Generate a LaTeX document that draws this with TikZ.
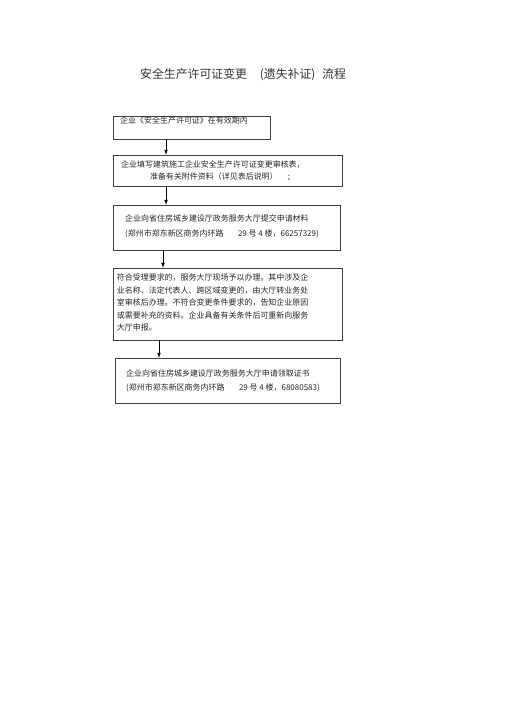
\documentclass[tikz,border=0pt]{standalone}
\usepackage{fontspec}
\newfontfamily\cjk{Noto Sans CJK SC}
\tikzstyle{flowbox} = [draw=black!75, line width=0.5pt, rectangle, inner sep=0pt]
\tikzstyle{flowtext} = [inner sep=0pt, anchor=north west, align=left, text=black!85, font={\cjk\fontsize{9.4}{14.7}\selectfont}]
\tikzstyle{flowarrow} = [-latex, line width=1pt, black]

\begin{document}
\begin{tikzpicture}[x=1.178pt,y=-1.178pt]
    \useasboundingbox (0,0) rectangle (505,714);
    \node[font={\cjk\fontsize{14}{16}\selectfont}, text=black!80, anchor=west, inner sep=0pt](title) at (140,75){安全生产许可证变更\hspace{15pt}(遗失补证)\hspace{8pt}流程};
    \node[flowbox, minimum width=184.9pt, minimum height=27.1pt](box1) at (191.5,127.5){};
    \node[flowbox, minimum width=269.8pt, minimum height=36.5pt](box2) at (227.5,170.5){};
    \node[flowbox, minimum width=267.4pt, minimum height=53pt](box3) at (226.5,227.5){};
    \node[flowbox, minimum width=269.8pt, minimum height=84.8pt](box4) at (227.5,304){};
    \node[flowbox, minimum width=265pt, minimum height=53pt](box5) at (227.5,380.5){};
    \node[flowtext](text1) at (120,117){企业《安全生产许可证》在有效期内};
    \node[flowtext](text2) at (121,160.5){企业填写建筑施工企业安全生产许可证变更审核表，\\
        \hspace*{34pt}准备有关附件资料（详见表后说明）\hspace{12pt};};
    \node[flowtext](text3) at (125,215){企业向省住房城乡建设厅政务服务大厅提交申请材料\\[2pt]
        (郑州市郑东新区商务内环路\hspace{17pt}29 号 4 楼，66257329)};
    \node[flowtext](text4) at (116.7,274){符合受理要求的，服务大厅现场予以办理。其中涉及企\\
        业名称、法定代表人、跨区域变更的，由大厅转业务处\\
        室审核后办理。不符合变更条件要求的，告知企业原因\\
        或需要补充的资料。企业具备有关条件后可重新向服务\\
        大厅申报。};
    \node[flowtext](text5) at (126,370){企业向省住房城乡建设厅政务服务大厅申请领取证书\\[1.5pt]
        (郑州市郑东新区商务内环路\hspace{17pt}29 号 4 楼，68080583)};
    \draw[flowarrow](box1.south -| 166,0)--(box2.north -| 166,0);
    \draw[flowarrow](box2.south -| 166,0)--(box3.north -| 166,0);
    \draw[flowarrow](box3.south -| 163,0)--(box4.north -| 163,0);
    \draw[flowarrow](box4.south -| 159,0)--(box5.north -| 159,0);
  \end{tikzpicture}
\end{document}
